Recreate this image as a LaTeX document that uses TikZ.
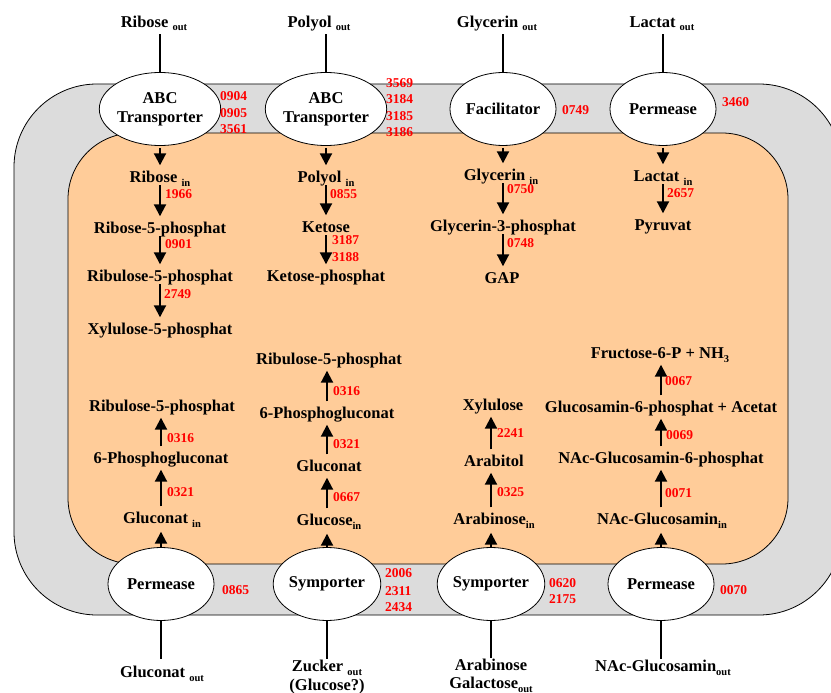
\documentclass[tikz,border=0pt]{standalone}
\usepackage{fontspec}
\setmainfont{Liberation Serif}
\usetikzlibrary{arrows.meta,shapes.geometric}
\definecolor{membrane}{HTML}{DCDCDC}
\definecolor{cytoplasm}{HTML}{FFCC99}
\newcommand\sbt[1]{\raisebox{-3.5pt}{\fontsize{10.5}{12}\selectfont #1}}

\begin{document}
\begin{tikzpicture}[x=1pt,y=-1pt,
  txt/.style={font=\fontsize{16.5}{19}\selectfont\bfseries, inner sep=0pt, text height=11pt, text depth=0pt},
  num/.style={text=red, font=\fontsize{13.5}{16}\selectfont\bfseries, inner sep=0pt, anchor=west},
  porter/.style={ellipse, draw=black, line width=0.8pt, fill=white, minimum width=106pt, minimum height=73pt,
                 inner sep=0pt, align=center, font=\fontsize{16.5}{19}\selectfont\bfseries},
  stem/.style={line width=2.5pt},
  down/.style={line width=2pt, -{Triangle[width=12pt,length=12pt]}, shorten <=2.5pt, shorten >=6pt},
  up/.style={line width=2pt, -{Triangle[width=12pt,length=12pt]}, shorten <=6pt, shorten >=6pt},
]
\useasboundingbox (0,0) rectangle (831,693);
\clip (0,0) rectangle (831,693);
\fill[white] (0,0) rectangle (831,693);

% cell envelope and cytoplasm
\draw[fill=membrane, line width=0.8pt, rounded corners=83pt] (14,84) rectangle (842,615);
\draw[fill=cytoplasm, line width=0.8pt, rounded corners=66pt] (68,133) rectangle (788,564);

% transporters in the membrane
\node[porter] (eRib) at (160,109) {ABC\\Transporter};
\node[porter] (ePol) at (326,109) {ABC\\Transporter};
\node[porter] (eGly) at (503,109) {Facilitator};
\node[porter] (eLac) at (663,109) {Permease};
\node[porter] (eGlc) at (161,584) {Permease};
\node[porter] (eZuc) at (327,584) {Symporter};
\node[porter] (eAra) at (491,584) {Symporter};
\node[porter] (eNac) at (661,584) {Permease};

% external substrates
\node[txt] (oRib) at (154,22) {Ribose \sbt{out}};
\node[txt] (oPol) at (319,22) {Polyol \sbt{out}};
\node[txt] (oGly) at (497,22) {Glycerin \sbt{out}};
\node[txt] (oLac) at (662,22) {Lactat \sbt{out}};
\node[txt] (oGlc) at (162,672) {Gluconat \sbt{out}};
\node[txt] (oZuc) at (327,666) {Zucker \sbt{out}};
\node[txt] (oZuc2) at (327,685) {(Glucose?)};
\node[txt] (oAra) at (491,665) {Arabinose};
\node[txt] (oAra2) at (491,683) {Galactose\sbt{out}};
\node[txt] (oNac) at (663,666) {NAc-Glucosamin\sbt{out}};

\draw[stem, shorten <=6.5pt] (oRib.south -| eRib.north) -- (eRib.north);
\draw[stem, shorten <=6.5pt] (oPol.south -| ePol.north) -- (ePol.north);
\draw[stem, shorten <=6.5pt] (oGly.south -| eGly.north) -- (eGly.north);
\draw[stem, shorten <=6.5pt] (oLac.south -| eLac.north) -- (eLac.north);
\draw[stem, shorten >=7pt] (eGlc.south) -- (oGlc.north -| eGlc.south);
\draw[stem, shorten >=1.5pt] (eZuc.south) -- (oZuc.north -| eZuc.south);
\draw[stem, shorten >=1pt] (eAra.south) -- (oAra.north -| eAra.south);
\draw[stem, shorten >=1.5pt] (eNac.south) -- (oNac.north -| eNac.south);

% upper pathways
\node[txt] (rIn) at (160,177) {Ribose \sbt{in}};
\node[txt] (r5p) at (160,228) {Ribose-5-phosphat};
\node[txt] (ru5p) at (160,276) {Ribulose-5-phosphat};
\node[txt] (xu5p) at (160,329) {Xylulose-5-phosphat};
\node[txt] (pIn) at (326,177) {Polyol \sbt{in}};
\node[txt] (ket) at (326,227) {Ketose};
\node[txt] (ketP) at (326,276) {Ketose-phosphat};
\node[txt] (gIn) at (501,175) {Glycerin \sbt{in}};
\node[txt] (g3p) at (503,226) {Glycerin-3-phosphat};
\node[txt] (gap) at (502,278) {GAP};
\node[txt] (lIn) at (663,176) {Lactat \sbt{in}};
\node[txt] (pyr) at (663,225) {Pyruvat};

\draw[down, shorten <=2pt] (eRib.south) -- (rIn.north -| eRib.south);
\draw[down] (rIn.south -| eRib) -- (r5p.north -| eRib);
\draw[down] (r5p.south -| eRib) -- (ru5p.north -| eRib);
\draw[down] (ru5p.south -| eRib) -- (xu5p.north -| eRib);
\draw[down, shorten <=2pt] (ePol.south) -- (pIn.north -| ePol.south);
\draw[down] (pIn.south -| ePol) -- (ket.north -| ePol);
\draw[down] (ket.south -| ePol) -- (ketP.north -| ePol);
\draw[down, shorten <=2pt] (eGly.south) -- (gIn.north -| eGly.south);
\draw[down] (gIn.south -| eGly) -- (g3p.north -| eGly);
\draw[down] (g3p.south -| eGly) -- (gap.north -| eGly);
\draw[down, shorten <=2pt] (eLac.south) -- (lIn.north -| eLac.south);
\draw[down] (lIn.south -| eLac) -- (pyr.north -| eLac);

% lower pathways
\node[txt] (gcIn) at (162,518) {Gluconat \sbt{in}};
\node[txt] (pg1) at (161,458) {6-Phosphogluconat};
\node[txt] (ru1) at (162,406) {Ribulose-5-phosphat};
\node[txt] (glcIn) at (329,520) {Glucose\sbt{in}};
\node[txt] (gcn) at (329,466) {Gluconat};
\node[txt] (pg2) at (327,413) {6-Phosphogluconat};
\node[txt] (ru2) at (329,359) {Ribulose-5-phosphat};
\node[txt] (araIn) at (494,519) {Arabinose\sbt{in}};
\node[txt] (abt) at (494,461) {Arabitol};
\node[txt] (xyl) at (493,405) {Xylulose};
\node[txt] (nacIn) at (662,519) {NAc-Glucosamin\sbt{in}};
\node[txt] (nac6p) at (661,458) {NAc-Glucosamin-6-phosphat};
\node[txt] (gn6p) at (661,407) {Glucosamin-6-phosphat + Acetat};
\node[txt] (f6p) at (660,353) {Fructose-6-P + NH\sbt{3}};

\draw[up, shorten <=0pt, shorten >=8pt] (eGlc.north) -- (gcIn.south -| eGlc.north);
\draw[up] (gcIn.north -| eGlc) -- (pg1.south -| eGlc);
\draw[up] (pg1.north -| eGlc) -- (ru1.south -| eGlc);
\draw[up, shorten <=0pt, shorten >=8pt] (eZuc.north) -- (glcIn.south -| eZuc.north);
\draw[up] (glcIn.north -| eZuc) -- (gcn.south -| eZuc);
\draw[up] (gcn.north -| eZuc) -- (pg2.south -| eZuc);
\draw[up] (pg2.north -| eZuc) -- (ru2.south -| eZuc);
\draw[up, shorten <=0pt, shorten >=8pt] (eAra.north) -- (araIn.south -| eAra.north);
\draw[up] (araIn.north -| eAra) -- (abt.south -| eAra);
\draw[up] (abt.north -| eAra) -- (xyl.south -| eAra);
\draw[up, shorten <=0pt, shorten >=8pt] (eNac.north) -- (nacIn.south -| eNac.north);
\draw[up] (nacIn.north -| eNac) -- (nac6p.south -| eNac);
\draw[up] (nac6p.north -| eNac) -- (gn6p.south -| eNac);
\draw[up] (gn6p.north -| eNac) -- (f6p.south -| eNac);

% gene numbers of the transporters
\node[num] (n0904) at (220,96) {0904};
\node[num] (n0905) at (220,113) {0905};
\node[num] (n3561) at (220,129) {3561};
\node[num] (n3569) at (386,83) {3569};
\node[num] (n3184) at (386,99) {3184};
\node[num] (n3185) at (386,116) {3185};
\node[num] (n3186) at (386,132) {3186};
\node[num] (n0749) at (562,110) {0749};
\node[num] (n3460) at (722,102) {3460};
\node[num] (n0865) at (222,590) {0865};
\node[num] (n2006) at (385,573) {2006};
\node[num] (n2311) at (385,591) {2311};
\node[num] (n2434) at (385,607) {2434};
\node[num] (n0620) at (549,583) {0620};
\node[num] (n2175) at (549,599) {2175};
\node[num] (n0070) at (720,590) {0070};

% gene numbers of the enzymes
\node[num] (n1966) at (165,194) {1966};
\node[num] (n0901) at (165,244) {0901};
\node[num] (n2749) at (164,294) {2749};
\node[num] (n0855) at (330,194) {0855};
\node[num] (n3187) at (332,240) {3187};
\node[num] (n3188) at (332,257) {3188};
\node[num] (n0750) at (507,189) {0750};
\node[num] (n0748) at (507,243) {0748};
\node[num] (n2657) at (667,193) {2657};
\node[num] (n0316a) at (167,438) {0316};
\node[num] (n0321a) at (167,492) {0321};
\node[num] (n0316b) at (333,391) {0316};
\node[num] (n0321b) at (333,444) {0321};
\node[num] (n0667) at (333,497) {0667};
\node[num] (n2241) at (497,433) {2241};
\node[num] (n0325) at (497,492) {0325};
\node[num] (n0067) at (665,381) {0067};
\node[num] (n0069) at (666,435) {0069};
\node[num] (n0071) at (665,493) {0071};
\end{tikzpicture}
\end{document}
